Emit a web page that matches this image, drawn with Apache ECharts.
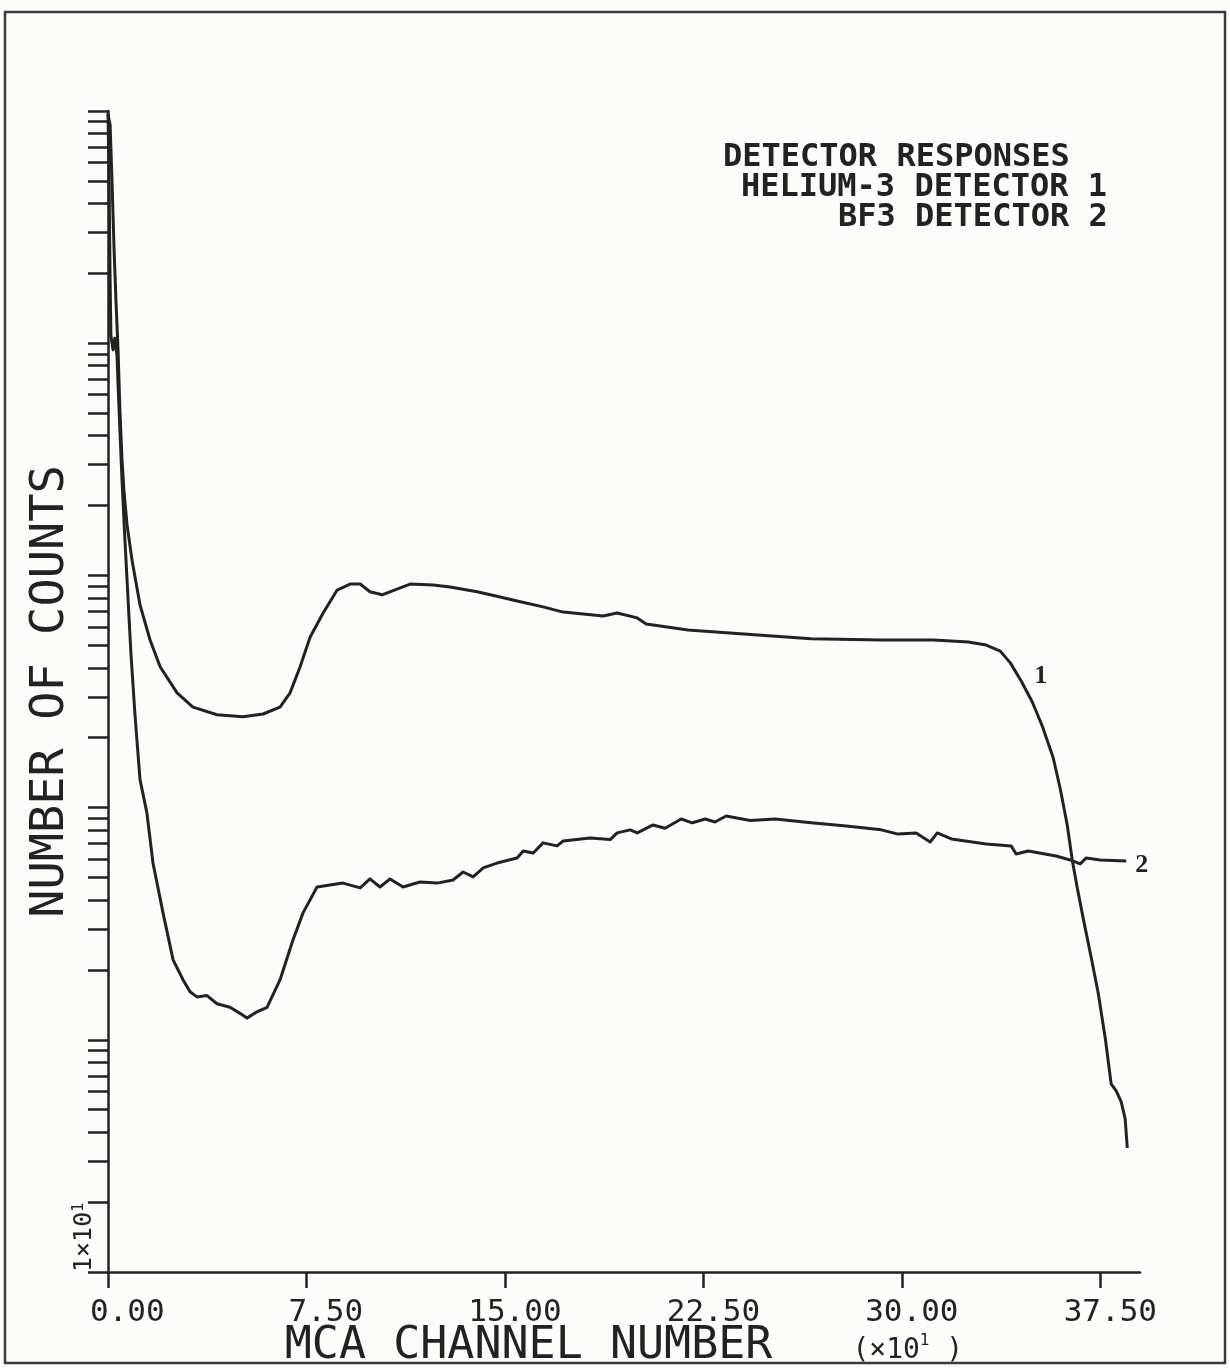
<!DOCTYPE html>
<html>
<head>
<meta charset="utf-8">
<title>Detector Responses</title>
<script src="https://cdn.jsdelivr.net/npm/echarts@6/dist/echarts.min.js"></script>
<style>
  html, body { margin: 0; padding: 0; background: #fcfcfa; }
  #chart { width: 1230px; height: 1368px; }
</style>
</head>
<body>
<div id="chart"></div>
<script>
// MCA channel axis (units of x10 channels)
const channelTicks = [0, 7.5, 15, 22.5, 30, 37.5];
// count axis decades
const countDecades = [1e1, 1e2, 1e3, 1e4, 1e5, 1e6];

// Detector 1: Helium-3
const he3Channel = [0, 0.08, 0.15, 0.23, 0.30, 0.38, 0.45, 0.53, 0.60, 0.72,
  0.91, 1.21, 1.59, 1.97, 2.61, 3.21, 4.12, 5.10, 5.86, 6.50,
  6.88, 7.26, 7.64, 8.13, 8.66, 9.15, 9.53, 9.90, 10.36, 10.92,
  11.42, 12.29, 12.93, 13.95, 14.82, 15.46, 16.44, 17.20, 17.96, 18.71,
  19.24, 20.00, 20.34, 21.92, 23.89, 26.57, 29.22, 31.19, 32.51, 33.19,
  33.72, 34.10, 34.51, 34.93, 35.31, 35.72, 35.99, 36.25, 36.44, 36.63,
  36.89, 37.16, 37.42, 37.69, 37.91, 38.10, 38.29, 38.44, 38.52];
const he3Counts = [962000, 871000, 505000, 252000, 153000, 93600, 51500, 31400, 23300, 16500,
  11600, 7460, 5270, 4040, 3120, 2710, 2510, 2460, 2530, 2710,
  3120, 4040, 5430, 6890, 8650, 9180, 9180, 8500, 8250, 8730,
  9180, 9100, 8910, 8500, 8070, 7760, 7320, 6950, 6820, 6690,
  6890, 6560, 6180, 5820, 5600, 5330, 5270, 5270, 5170, 5010,
  4720, 4200, 3510, 2850, 2240, 1640, 1200, 842, 595, 451,
  318, 225, 159, 101, 64.6, 60.3, 54.0, 45.6, 34.2];

// Detector 2: BF3
const bf3Channel = [0, 0.04, 0.08, 0.11, 0.19, 0.26, 0.34, 0.38, 0.45, 0.53,
  0.64, 0.76, 0.87, 1.02, 1.21, 1.47, 1.70, 2.08, 2.46, 2.84,
  3.10, 3.36, 3.74, 4.12, 4.61, 4.99, 5.25, 5.63, 6.01, 6.50,
  6.99, 7.37, 7.90, 8.88, 9.53, 9.90, 10.28, 10.66, 11.15, 11.79,
  12.44, 13.04, 13.42, 13.80, 14.18, 14.70, 15.46, 15.69, 16.07, 16.44,
  16.97, 17.20, 18.22, 18.98, 19.24, 19.73, 20.00, 20.60, 21.05, 21.66,
  22.08, 22.57, 22.94, 23.36, 24.27, 25.21, 26.57, 27.90, 29.22, 29.86,
  30.54, 31.07, 31.34, 31.87, 33.19, 34.13, 34.32, 34.78, 35.83, 36.36,
  36.74, 36.97, 37.50, 38.48];
const bf3Counts = [980000, 505000, 187000, 108000, 93600, 105000, 88900, 66100, 42300, 25800,
  14200, 7830, 4540, 2510, 1320, 949, 577, 352, 221, 181,
  161, 153, 155, 143, 138, 130, 124, 132, 138, 181,
  269, 352, 455, 473, 451, 493, 455, 493, 455, 478,
  473, 488, 528, 503, 550, 577, 607, 650, 637, 705,
  684, 718, 740, 728, 778, 802, 778, 842, 815, 893,
  860, 893, 867, 920, 880, 893, 860, 834, 802, 769,
  778, 711, 778, 733, 697, 684, 631, 650, 619, 595,
  572, 607, 595, 589];

// where the curve number "1" is attached
const he3TagChannel = 34.51;

const INK = '#222222';
const MONO = 'DejaVu Sans Mono';

// minor ticks at 1..9 of every decade
const countTicks = [];
for (let d = 0; d < countDecades.length - 1; d++) {
  for (let m = 1; m <= 9; m++) countTicks.push(m * countDecades[d]);
}
countTicks.push(countDecades[countDecades.length - 1]);

const he3Data = he3Channel.map((x, i) => [x, he3Counts[i]]);
const bf3Data = bf3Channel.map((x, i) => [x, bf3Counts[i]]);
const he3TagIndex = he3Channel.indexOf(he3TagChannel);

const chart = echarts.init(document.getElementById('chart'), null, { renderer: 'canvas' });

const titleStyle = { fontFamily: MONO, fontSize: 32, fontWeight: 'bold', color: INK };

chart.setOption({
  animation: false,
  backgroundColor: '#fcfcfa',
  title: [
    { text: 'DETECTOR RESPONSES', left: 718, top: 137, textStyle: titleStyle },
    { text: 'HELIUM-3 DETECTOR 1', left: 736, top: 167, textStyle: titleStyle },
    { text: 'BF3 DETECTOR 2', left: 833, top: 197, textStyle: titleStyle }
  ],
  grid: { left: 108, right: 90, top: 111, bottom: 96, outerBoundsMode: 'none', containLabel: false },
  xAxis: {
    type: 'value',
    min: 0,
    max: 39,
    splitLine: { show: false },
    axisLine: { lineStyle: { color: INK, width: 2.5 } },
    axisTick: {
      customValues: channelTicks,
      length: 16,
      lineStyle: { color: INK, width: 2.5 }
    },
    axisLabel: {
      customValues: channelTicks,
      formatter: v => v.toFixed(2).padStart(5, ' '),
      fontFamily: MONO,
      fontSize: 31,
      color: INK,
      margin: 25,
      padding: [0, 0, 0, 20]
    },
    name: '{m|MCA CHANNEL NUMBER}{g|}{u|(\u00d710}{e|1}{u| )}',
    nameLocation: 'middle',
    nameGap: 52,
    nameMoveOverlap: false,
    nameTextStyle: {
      rich: {
        m: { fontFamily: MONO, fontSize: 45, color: INK, verticalAlign: 'bottom' },
        g: { width: 80 },
        u: { fontFamily: MONO, fontSize: 28, color: INK, verticalAlign: 'bottom', padding: [0, 0, 4, 0] },
        e: { fontFamily: MONO, fontSize: 16, color: INK, verticalAlign: 'bottom', padding: [0, 0, 20, 0] }
      }
    }
  },
  yAxis: {
    type: 'log',
    logBase: 10,
    min: 10,
    max: 1e6,
    splitLine: { show: false },
    axisLine: { lineStyle: { color: INK, width: 2.5 } },
    axisTick: {
      customValues: countTicks,
      length: 20,
      lineStyle: { color: INK, width: 2.5 }
    },
    axisLabel: {
      customValues: [countDecades[0]],
      formatter: v => (Math.abs(v - 10) < 1e-6 ? '{a|1\u00d710}{s|1}' : ''),
      rotate: 90,
      align: 'left',
      verticalAlign: 'middle',
      margin: 24,
      rich: {
        a: { fontFamily: MONO, fontSize: 25, color: INK },
        s: { fontFamily: MONO, fontSize: 15, color: INK, verticalAlign: 'top' }
      }
    },
    name: 'NUMBER OF COUNTS',
    nameLocation: 'middle',
    nameRotate: 90,
    nameGap: 34,
    nameMoveOverlap: false,
    nameTextStyle: { fontFamily: MONO, fontSize: 47, color: INK }
  },
  series: [
    {
      name: 'HELIUM-3 DETECTOR 1',
      type: 'line',
      data: he3Data,
      showSymbol: false,
      lineStyle: { color: INK, width: 3, join: 'round' },
      markPoint: {
        symbol: 'circle',
        symbolSize: 2,
        itemStyle: { color: 'rgba(0,0,0,0)' },
        data: [{
          coord: he3Data[he3TagIndex],
          label: {
            show: true, formatter: '1', position: 'right', distance: 12, offset: [0, -5],
            fontFamily: 'Liberation Serif', fontWeight: 'bold', fontSize: 26, color: INK
          }
        }]
      }
    },
    {
      name: 'BF3 DETECTOR 2',
      type: 'line',
      data: bf3Data,
      showSymbol: false,
      lineStyle: { color: INK, width: 3, join: 'round' },
      endLabel: {
        show: true, formatter: '2', distance: 9, offset: [0, 4],
        fontFamily: 'Liberation Serif', fontWeight: 'bold', fontSize: 26, color: INK
      }
    }
  ],
  graphic: [
    {
      type: 'rect',
      shape: { x: 5, y: 12, width: 1220, height: 1351 },
      style: { fill: 'none', stroke: '#3a3a3a', lineWidth: 2.5 },
      silent: true
    }
  ]
});
</script>
</body>
</html>
